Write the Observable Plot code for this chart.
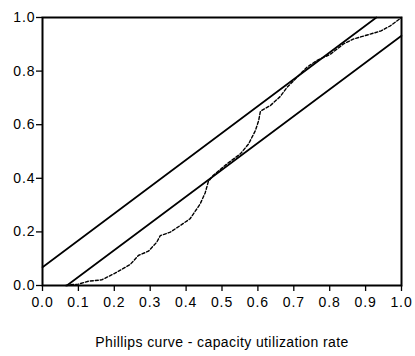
<!DOCTYPE html>
<html>
<head>
<meta charset="utf-8">
<script src="https://cdn.jsdelivr.net/npm/d3@7"></script>
<script src="https://cdn.jsdelivr.net/npm/@observablehq/plot@0.6"></script>
<style>
  html, body { margin: 0; padding: 0; background: #fff; }
  #chart { width: 415px; height: 356px; }
</style>
</head>
<body>
<div id="chart"></div>
<script>
// CUSUM of squares (dashed)
const cusumX = [0.065, 0.077, 0.100, 0.128, 0.165, 0.202, 0.244, 0.267, 0.295, 0.318, 0.328, 0.356, 0.384, 0.411, 0.430, 0.439, 0.453, 0.462, 0.475, 0.514, 0.551, 0.574, 0.593, 0.602, 0.607, 0.635, 0.662, 0.681, 0.737, 0.765, 0.802, 0.839, 0.867, 0.913, 0.943, 0.969, 1.000];
const cusumY = [0.000, 0.003, 0.005, 0.016, 0.021, 0.046, 0.078, 0.112, 0.128, 0.161, 0.186, 0.199, 0.224, 0.249, 0.286, 0.304, 0.345, 0.388, 0.410, 0.454, 0.491, 0.528, 0.578, 0.615, 0.650, 0.672, 0.705, 0.739, 0.815, 0.840, 0.863, 0.902, 0.920, 0.938, 0.950, 0.969, 1.000];
// 5% significance bands
const upperX = [0.000, 0.930];
const upperY = [0.068, 1.000];
const lowerX = [0.068, 1.000];
const lowerY = [0.000, 0.932];

const xTicks = [0, 0.1, 0.2, 0.3, 0.4, 0.5, 0.6, 0.7, 0.8, 0.9, 1.0];
const yTicks = [0, 0.2, 0.4, 0.6, 0.8, 1.0];
const xLabel = "Phillips curve - capacity utilization rate";

const cusum = cusumX.map((x, i) => ({x, y: cusumY[i]}));
const upper = upperX.map((x, i) => ({x, y: upperY[i]}));
const lower = lowerX.map((x, i) => ({x, y: lowerY[i]}));

const chart = Plot.plot({
  width: 415,
  height: 356,
  marginLeft: 42,
  marginRight: 14,
  marginTop: 17,
  marginBottom: 71,
  style: {fontFamily: "'Liberation Sans', Arial, sans-serif", color: "#000", background: "#fff", letterSpacing: "0.4px"},
  x: {domain: [0, 1]},
  y: {domain: [0, 1]},
  marks: [
    Plot.axisX({ticks: xTicks, tickFormat: d3.format(".1f"), tickSize: 6, tickPadding: 6, label: null, fontSize: 14, strokeWidth: 1.3}),
    Plot.axisX({ticks: [], label: xLabel, labelAnchor: "center", labelOffset: 61, labelArrow: "none", fontSize: 14}),
    Plot.axisY({ticks: yTicks, tickFormat: d3.format(".1f"), tickSize: 6, tickPadding: 1, label: null, fontSize: 14, strokeWidth: 1.3}),
    Plot.line(upper, {x: "x", y: "y", stroke: "#000", strokeWidth: 1.7}),
    Plot.line(lower, {x: "x", y: "y", stroke: "#000", strokeWidth: 1.7}),
    Plot.line(cusum, {x: "x", y: "y", stroke: "#000", strokeWidth: 1.4, strokeDasharray: "3,2"}),
    Plot.frame({stroke: "#000", strokeWidth: 2})
  ]
});
// tick labels: slightly wider spacing like the reference
d3.select(chart).selectAll("text")
  .filter(function() { return /^\d\.\d$/.test(this.textContent); })
  .style("font-size", "14px").style("letter-spacing", "0.9px");
document.getElementById("chart").appendChild(chart);
</script>
</body>
</html>
